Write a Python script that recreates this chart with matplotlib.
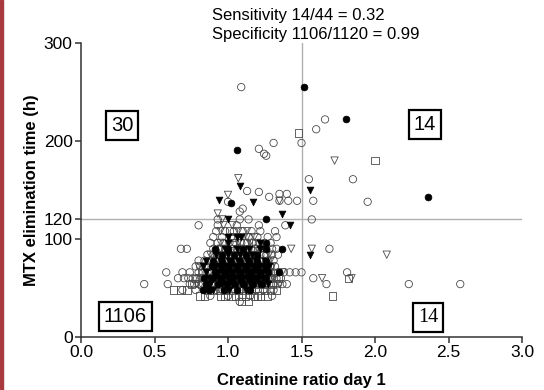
import matplotlib
matplotlib.use("Agg")
import matplotlib.pyplot as plt
from matplotlib.patches import Rectangle

plt.rcParams['font.family'] = ['Liberation Sans', 'DejaVu Sans']

# (creatinine ratio day 1, MTX elimination time in h)
open_circles = [
    (1.08, 36),
    (0.88, 42), (1.00, 42), (1.15, 42), (1.30, 42),
    (0.69, 48), (0.78, 48), (0.84, 48), (0.92, 48), (0.96, 48), (1.00, 48), (1.05, 48),
    (1.09, 48), (1.13, 48), (1.19, 48), (1.24, 48), (1.31, 48),
    (0.43, 54), (0.59, 54), (0.74, 54), (0.77, 54), (0.80, 54), (0.83, 54), (0.86, 54),
    (0.89, 54), (0.92, 54), (0.95, 54), (0.98, 54), (1.01, 54), (1.04, 54), (1.07, 54),
    (1.10, 54), (1.13, 54), (1.16, 54), (1.19, 54), (1.22, 54), (1.25, 54), (1.28, 54),
    (1.31, 54), (1.34, 54), (1.37, 54), (1.40, 54), (1.67, 54), (2.23, 54), (2.58, 54),
    (0.66, 60), (0.70, 60), (0.73, 60), (0.76, 60), (0.79, 60), (0.82, 60), (0.85, 60),
    (0.88, 60), (0.91, 60), (0.94, 60), (0.97, 60), (1.00, 60), (1.03, 60), (1.06, 60),
    (1.09, 60), (1.12, 60), (1.15, 60), (1.18, 60), (1.21, 60), (1.24, 60), (1.27, 60),
    (1.30, 60), (1.33, 60), (1.36, 60), (1.58, 60),
    (0.58, 66), (0.69, 66), (0.74, 66), (0.80, 66), (0.83, 66), (0.86, 66), (0.89, 66),
    (0.92, 66), (0.95, 66), (0.98, 66), (1.01, 66), (1.04, 66), (1.07, 66), (1.10, 66),
    (1.13, 66), (1.16, 66), (1.19, 66), (1.22, 66), (1.25, 66), (1.28, 66), (1.31, 66),
    (1.34, 66), (1.38, 66), (1.42, 66), (1.46, 66), (1.50, 66), (1.81, 66),
    (0.78, 72), (0.81, 72), (0.84, 72), (0.87, 72), (0.90, 72), (0.93, 72), (0.96, 72),
    (0.99, 72), (1.02, 72), (1.05, 72), (1.08, 72), (1.11, 72), (1.14, 72), (1.17, 72),
    (1.20, 72), (1.23, 72), (1.26, 72), (1.29, 72), (1.32, 72),
    (0.80, 78), (0.84, 78), (0.88, 78), (0.91, 78), (0.94, 78), (0.97, 78), (1.00, 78),
    (1.03, 78), (1.06, 78), (1.09, 78), (1.12, 78), (1.15, 78), (1.18, 78), (1.21, 78),
    (1.24, 78), (1.27, 78), (1.31, 78),
    (0.86, 84), (0.90, 84), (0.94, 84), (0.98, 84), (1.02, 84), (1.06, 84), (1.10, 84),
    (1.14, 84), (1.18, 84), (1.22, 84), (1.26, 84), (1.30, 84), (1.34, 84),
    (0.68, 90), (0.72, 90), (0.90, 90), (0.94, 90), (0.98, 90), (1.02, 90), (1.06, 90),
    (1.10, 90), (1.14, 90), (1.18, 90), (1.22, 90), (1.26, 90), (1.30, 90), (1.33, 90),
    (1.69, 90),
    (0.88, 96), (0.93, 96), (0.97, 96), (1.01, 96), (1.05, 96), (1.09, 96), (1.13, 96),
    (1.17, 96), (1.21, 96), (1.25, 96), (1.29, 96),
    (0.90, 102), (0.96, 102), (1.02, 102), (1.14, 102), (1.20, 102), (1.27, 102), (1.33, 102),
    (0.92, 108), (0.98, 108), (1.04, 108), (1.10, 108), (1.16, 108), (1.22, 108), (1.32, 108),
    (0.80, 114), (0.93, 114), (1.06, 114), (1.21, 114), (1.39, 114),
    (0.93, 120), (1.08, 120), (1.14, 120), (1.57, 120),
    (1.08, 128), (1.10, 131), (1.00, 138), (1.28, 143), (1.35, 139), (1.41, 139),
    (1.47, 139), (1.58, 139), (1.35, 146), (1.40, 146), (1.13, 149), (1.21, 148),
    (1.95, 138), (1.55, 161), (1.85, 161), (1.31, 198), (1.50, 198), (1.60, 212),
    (1.66, 222), (1.21, 192), (1.245, 187), (1.26, 185), (1.09, 255),
]

open_squares = [
    (1.09, 36), (1.14, 36),
    (0.81, 42), (0.84, 42), (0.95, 42), (0.98, 42), (1.02, 42), (1.05, 42), (1.09, 42),
    (1.12, 42), (1.18, 42), (1.20, 42), (1.22, 42), (1.27, 42), (1.71, 42),
    (0.63, 48), (0.68, 48), (0.72, 48), (0.86, 48), (0.90, 48), (0.94, 48), (0.98, 48),
    (1.03, 48), (1.07, 48), (1.11, 48), (1.16, 48), (1.21, 48), (1.25, 48), (1.29, 48),
    (1.33, 48),
    (0.75, 54), (0.82, 54), (0.88, 54), (0.94, 54), (1.00, 54), (1.06, 54), (1.12, 54),
    (1.18, 54), (1.24, 54), (1.30, 54),
    (0.78, 60), (0.86, 60), (0.92, 60), (0.98, 60), (1.04, 60), (1.10, 60), (1.16, 60),
    (1.22, 60), (1.28, 60), (1.34, 60), (1.82, 60),
    (0.82, 66), (0.88, 66), (0.94, 66), (1.00, 66), (1.06, 66), (1.12, 66), (1.18, 66),
    (1.24, 66), (1.30, 66),
    (0.86, 72), (0.92, 72), (0.98, 72), (1.04, 72), (1.10, 72), (1.16, 72), (1.22, 72),
    (1.28, 72),
    (0.87, 78), (0.93, 78), (0.99, 78), (1.05, 78), (1.11, 78), (1.17, 78), (1.23, 78),
    (0.92, 84), (1.00, 84), (1.08, 84), (1.16, 84), (1.24, 84),
    (0.96, 90), (1.04, 90), (1.12, 90), (1.20, 90),
    (1.03, 96), (1.11, 96), (1.19, 96),
    (1.04, 102), (1.01, 108),
    (1.48, 208), (2.00, 180),
]

open_triangles = [
    (0.79, 54), (1.35, 54),
    (0.81, 60), (1.31, 60), (1.64, 60), (1.84, 60),
    (0.88, 66), (1.37, 66),
    (0.80, 72), (1.30, 72),
    (0.92, 78), (1.15, 78), (1.29, 78),
    (0.88, 84), (1.28, 84), (2.08, 84),
    (0.95, 90), (1.08, 90), (1.20, 90), (1.43, 90), (1.57, 90),
    (0.95, 96), (1.07, 96), (1.15, 96),
    (1.11, 102), (1.13, 102), (1.18, 102),
    (0.95, 108), (1.07, 108), (1.13, 108),
    (0.97, 114), (1.03, 114),
    (0.96, 120),
    (0.93, 126), (1.35, 139), (1.00, 145), (1.07, 162), (1.725, 180),
]

filled_circles = [
    (0.83, 48), (0.87, 48), (0.97, 48), (1.06, 48), (1.15, 48),
    (0.85, 54), (0.93, 54), (0.99, 54), (1.05, 54), (1.11, 54), (1.17, 54), (1.23, 54),
    (0.84, 60), (0.90, 60), (0.96, 60), (1.02, 60), (1.08, 60), (1.14, 60), (1.20, 60),
    (1.26, 60),
    (0.91, 66), (0.97, 66), (1.03, 66), (1.09, 66), (1.15, 66), (1.21, 66), (1.27, 66),
    (1.35, 66),
    (0.89, 72), (0.95, 72), (1.01, 72), (1.07, 72), (1.13, 72), (1.19, 72), (1.25, 72),
    (0.90, 78), (0.96, 78), (1.02, 78), (1.08, 78), (1.14, 78), (1.20, 78), (1.26, 78),
    (0.96, 84), (1.04, 84), (1.12, 84), (1.20, 84),
    (0.91, 90), (1.00, 90), (1.10, 90), (1.26, 90), (1.37, 90),
    (1.26, 96), (1.26, 120),
    (1.02, 137), (1.06, 191), (2.36, 143), (1.80, 222), (1.52, 255),
]

filled_triangles = [
    (0.90, 48), (1.01, 48), (1.12, 48),
    (0.88, 54), (0.96, 54), (1.03, 54), (1.09, 54), (1.15, 54), (1.21, 54), (1.27, 54),
    (0.87, 60), (0.93, 60), (0.99, 60), (1.05, 60), (1.11, 60), (1.17, 60), (1.23, 60),
    (0.85, 66), (0.94, 66), (1.00, 66), (1.06, 66), (1.12, 66), (1.18, 66), (1.24, 66),
    (0.83, 72), (0.92, 72), (0.98, 72), (1.04, 72), (1.10, 72), (1.16, 72), (1.22, 72),
    (1.28, 72),
    (0.85, 78), (0.95, 78), (1.01, 78), (1.07, 78), (1.13, 78), (1.19, 78), (1.25, 78),
    (0.92, 84), (1.00, 84), (1.08, 84), (1.16, 84), (1.56, 84),
    (0.98, 90), (1.06, 90), (1.14, 90), (1.22, 90),
    (1.00, 96), (1.22, 96),
    (1.00, 102), (1.06, 102), (1.09, 102),
    (1.42, 114), (1.00, 120),
    (1.37, 126), (0.94, 140), (1.17, 138), (1.08, 154), (1.56, 150),
]

x_ticks = [0.0, 0.5, 1.0, 1.5, 2.0, 2.5, 3.0]
y_ticks = [0, 100, 120, 200, 300]
cut_x = 1.5
cut_y = 120

fig = plt.figure(figsize=(5.44, 3.90), dpi=100)
fig.patches.append(Rectangle((0, 0), 3 / 544, 1, transform=fig.transFigure,
                             color='#a8393e', zorder=0))
ax = fig.add_axes([81 / 544, 53 / 390, 441 / 544, 294 / 390])

ax.axvline(cut_x, color='#b0b0b0', lw=1.0, zorder=1)
ax.axhline(cut_y, color='#b0b0b0', lw=1.0, zorder=1)

edge = '#4a4a4a'
for pts, m in [(open_circles, 'o'), (open_squares, 's'), (open_triangles, 'v')]:
    xs, ys = zip(*pts)
    ax.scatter(xs, ys, s=28, marker=m, facecolors='none', edgecolors=edge,
               linewidths=0.6, zorder=2, clip_on=False)
for pts, m in [(filled_circles, 'o'), (filled_triangles, 'v')]:
    xs, ys = zip(*pts)
    ax.scatter(xs, ys, s=24, marker=m, facecolors='black', edgecolors='black',
               linewidths=0.5, zorder=3, clip_on=False)

ax.set_xlim(0, 3.0)
ax.set_ylim(0, 300)
ax.set_xticks(x_ticks)
ax.set_xticklabels(['%.1f' % v for v in x_ticks])
ax.set_yticks(y_ticks)
for s in ['top', 'right']:
    ax.spines[s].set_visible(False)
for s in ['left', 'bottom']:
    ax.spines[s].set_color('#333333')
    ax.spines[s].set_linewidth(1.1)
ax.tick_params(axis='both', direction='out', length=4, width=1.1, color='#333333',
               labelsize=12.5, pad=2)

ax.set_xlabel('Creatinine ratio day 1', fontsize=12, fontweight='bold', va='center')
ax.set_ylabel('MTX elimination time (h)', fontsize=12, fontweight='bold')
ax.xaxis.set_label_coords(0.5, -0.148)
ax.yaxis.set_label_coords(-0.095, 0.5)

box = dict(boxstyle='square,pad=0.25', facecolor='white', edgecolor='black', lw=1.6)
ax.text(0.28, 216, '30', fontsize=14.5, ha='center', va='center', bbox=box)
ax.text(2.34, 217, '14', fontsize=14.5, ha='center', va='center', bbox=box)
ax.text(0.30, 21, '1106', fontsize=14.5, ha='center', va='center', bbox=box)
ax.text(2.36, 19.5, '14', fontsize=14.5, ha='center', va='center', bbox=box,
        family='Liberation Serif')

fig.text(212 / 544, 1 - 15.5 / 390, 'Sensitivity 14/44 = 0.32', fontsize=12,
         ha='left', va='center')
fig.text(212 / 544, 1 - 34.5 / 390, 'Specificity 1106/1120 = 0.99', fontsize=12,
         ha='left', va='center')

fig.savefig('out.png', dpi=100)
